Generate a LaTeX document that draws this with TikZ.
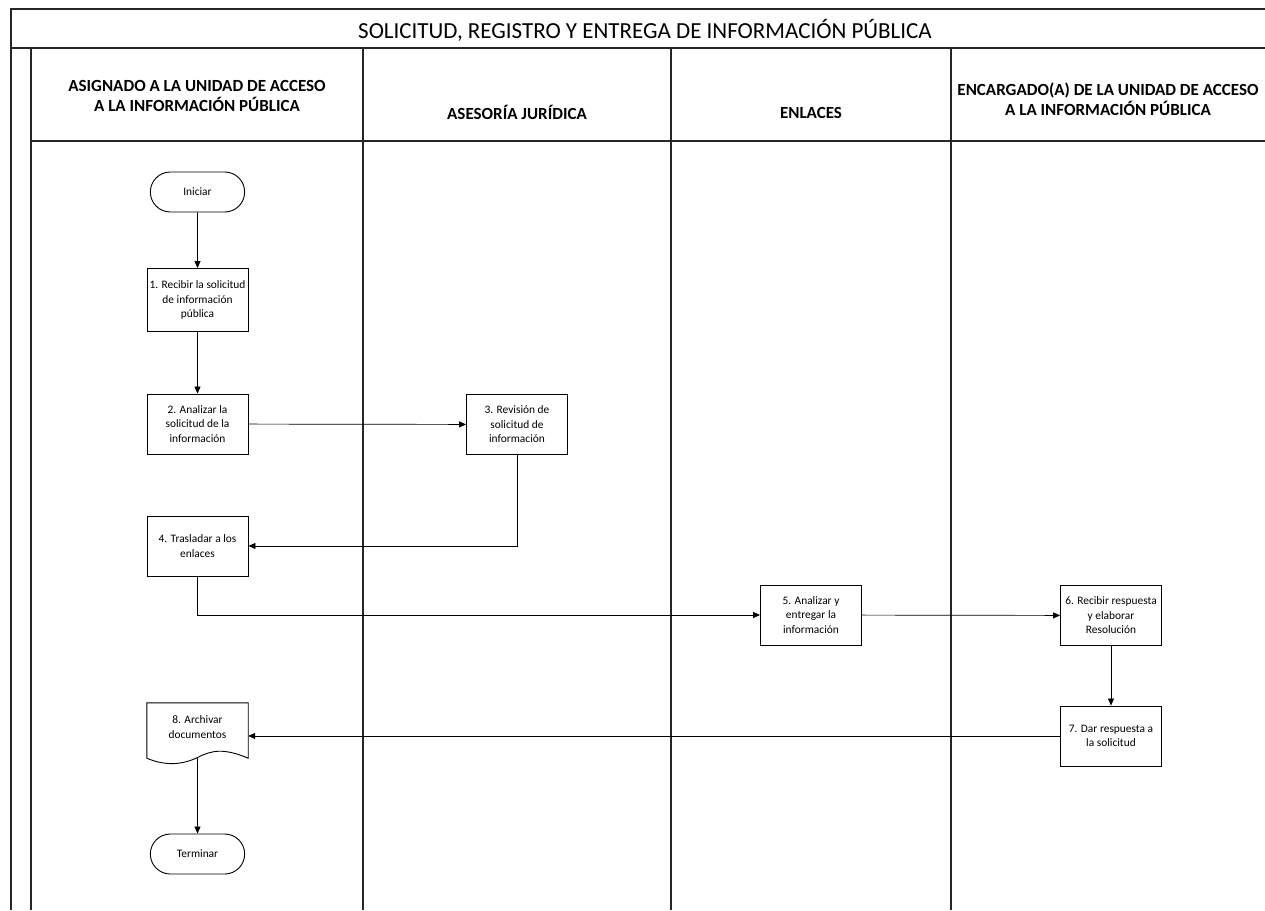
\documentclass[tikz,border=0pt]{standalone}
\usepackage{fontspec}
\setmainfont{Carlito}
\usetikzlibrary{arrows.meta,shapes.misc}
\begin{document}
\begin{tikzpicture}[x=1pt,y=-1pt,
  frame/.style={line width=1.1pt,black!85},
  proc/.style={draw,line width=0.9pt,minimum width=101pt,minimum height=60pt,align=center,font=\fontsize{11.4}{14.5}\selectfont,inner sep=1pt},
  term/.style={draw,line width=0.9pt,rounded rectangle,minimum width=101pt,minimum height=40pt,font=\fontsize{11.4}{14.5}\selectfont},
  txt/.style={align=center,font=\fontsize{11.4}{14.5}\selectfont,inner sep=1pt},
  hdr/.style={align=center,font=\bfseries\fontsize{17}{20}\selectfont},
  conn/.style={line width=0.7pt,-{Triangle[length=7pt,width=6pt]}}]
\useasboundingbox (0,0) rectangle (1265,910);
% frame
\draw[frame] (1265,9) -- (11,9) -- (11,910);
\draw[frame] (11,48) -- (1265,48);
\draw[frame] (31,48) -- (31,910);
\draw[frame] (31,141) -- (1265,141);
\draw[frame] (363,48) -- (363,910);
\draw[frame] (671,48) -- (671,910);
\draw[frame] (951,48) -- (951,910);
\node[font=\fontsize{23}{26}\selectfont] (title) at (645,30) {SOLICITUD, REGISTRO Y ENTREGA DE INFORMACIÓN PÚBLICA};
\node[hdr] (h1) at (197,96) {ASIGNADO A LA UNIDAD DE ACCESO\\A LA INFORMACIÓN PÚBLICA};
\node[hdr] (h2) at (517,112) {ASESORÍA JURÍDICA};
\node[hdr] (h3) at (811,113) {ENLACES};
\node[hdr] (h4) at (1108,99) {ENCARGADO(A) DE LA UNIDAD DE ACCESO\\A LA INFORMACIÓN PÚBLICA};
% nodes
\node[term] (ini) at (197.5,192) {Iniciar};
\node[proc,minimum height=63pt] (n1) at (197.5,300) {1. Recibir la solicitud\\de información\\pública};
\node[proc] (n2) at (197.5,424) {2. Analizar la\\solicitud de la\\información};
\node[proc] (n3) at (517,424.5) {3. Revisión de\\solicitud de\\información};
\node[proc] (n4) at (197.5,546) {4. Trasladar a los\\enlaces};
\node[proc] (n5) at (811,615) {5. Analizar y\\entregar la\\información};
\node[proc] (n6) at (1111,615.5) {6. Recibir respuesta\\y elaborar\\Resolución};
\node[proc] (n7) at (1111,736) {7. Dar respuesta a\\la solicitud};
\node[minimum width=101pt,minimum height=55pt,inner sep=0pt] (n8) at (197.5,730.5) {};
\draw[line width=0.9pt] (n8.south west) -- (n8.north west) -- (n8.north east) -- (n8.south east)
  .. controls (224,748) and (212,750) .. (197.5,757.5)
  .. controls (182,765) and (165,766) .. (n8.south west) -- cycle;
\node[txt] (n8t) at (197.5,727) {8. Archivar\\documentos};
\node[term] (fin) at (197.5,854) {Terminar};
% connectors
\draw[conn] (ini) -- (n1);
\draw[conn] (n1) -- (n2);
\draw[conn] (n2) -- (n3);
\draw[conn] (n3.south) |- (n4.east);
\draw[conn] (n4.south) |- (n5.west);
\draw[conn] (n5) -- (n6);
\draw[conn] (n6) -- (n7);
\draw[conn] (n7.west) -- (n8.east |- n7.west);
\coordinate (w8) at (197.5,757.5);
\draw[conn] (w8) -- (fin);
\end{tikzpicture}
\end{document}
